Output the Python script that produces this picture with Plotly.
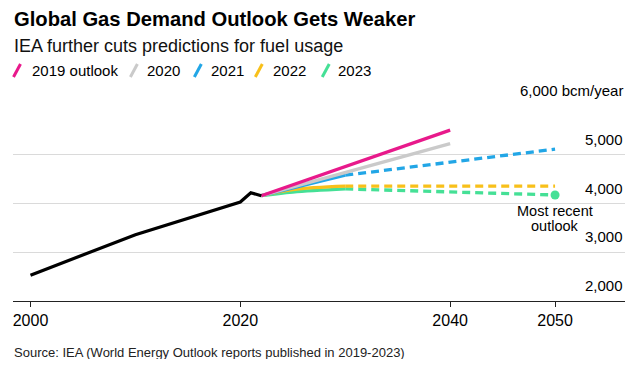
import plotly.graph_objects as go

# ---------------- data ----------------
hist_years = [2000, 2010, 2020, 2021, 2022]
hist_values = [2530, 3360, 4030, 4220, 4160]

o2019_years = [2022, 2040]
o2019_values = [4160, 5505]

o2020_years = [2022, 2040]
o2020_values = [4160, 5230]

o2021_solid_years = [2022, 2030]
o2021_solid_values = [4160, 4580]
o2021_dash_years = [2030, 2050]
o2021_dash_values = [4580, 5115]

o2022_solid_years = [2022, 2025, 2030]
o2022_solid_values = [4160, 4285, 4355]
o2022_dash_years = [2030, 2050]
o2022_dash_values = [4355, 4355]

o2023_solid_years = [2022, 2025, 2030]
o2023_solid_values = [4160, 4235, 4300]
o2023_dash_years = [2030, 2050]
o2023_dash_values = [4300, 4175]

x_tick_vals = [2000, 2020, 2040, 2050]
x_tick_text = ["2000", "2020", "2040", "2050"]
y_tick_vals = [2000, 3000, 4000, 5000, 6000]
y_tick_text = ["2,000", "3,000", "4,000", "5,000", "6,000 bcm/year"]

legend_labels = ["2019 outlook", "2020", "2021", "2022", "2023"]

# ---------------- style ----------------
PINK = "#E8198B"
GRAY = "#CACACA"
BLUE = "#22A6E6"
YELLOW = "#F8C01A"
GREEN = "#45E096"
BLACK = "#000000"
FONT = "Liberation Sans"

OFF = 8  # page body margin
W, H = 642 - 2 * OFF, 367 - 2 * OFF
# plot area in window pixel coords
PLOT_L, PLOT_R, PLOT_T, PLOT_B = 12.5, 625, 106, 300.7


def py(p):
    return (PLOT_B - p) / (PLOT_B - PLOT_T)


def px(p):
    return (p - PLOT_L) / (PLOT_R - PLOT_L)


fig = go.Figure()
LW = 3.3
DASH = "8px,5px"

fig.add_trace(go.Scatter(x=o2023_solid_years, y=o2023_solid_values, mode="lines",
                         line=dict(color=GREEN, width=LW), line_shape="spline"))
fig.add_trace(go.Scatter(x=o2023_dash_years, y=o2023_dash_values, mode="lines",
                         line=dict(color=GREEN, width=LW, dash=DASH)))
fig.add_trace(go.Scatter(x=o2023_dash_years[-1:], y=o2023_dash_values[-1:], mode="markers",
                         marker=dict(color=GREEN, size=9)))
fig.add_trace(go.Scatter(x=o2022_solid_years, y=o2022_solid_values, mode="lines",
                         line=dict(color=YELLOW, width=LW), line_shape="spline"))
fig.add_trace(go.Scatter(x=o2022_dash_years, y=o2022_dash_values, mode="lines",
                         line=dict(color=YELLOW, width=LW, dash=DASH)))
fig.add_trace(go.Scatter(x=o2021_solid_years, y=o2021_solid_values, mode="lines",
                         line=dict(color=BLUE, width=LW)))
fig.add_trace(go.Scatter(x=o2021_dash_years, y=o2021_dash_values, mode="lines",
                         line=dict(color=BLUE, width=LW, dash=DASH)))
fig.add_trace(go.Scatter(x=o2020_years, y=o2020_values, mode="lines",
                         line=dict(color=GRAY, width=LW)))
fig.add_trace(go.Scatter(x=o2019_years, y=o2019_values, mode="lines",
                         line=dict(color=PINK, width=LW)))
fig.add_trace(go.Scatter(x=hist_years, y=hist_values, mode="lines",
                         line=dict(color=BLACK, width=3.2)))

x0 = 2000 - (30 - PLOT_L) / 10.5
x1 = 2050 + (PLOT_R - 555) / 10.5

annotations = []
shapes = []

# title / subtitle / source
annotations.append(dict(text="<b>Global Gas Demand Outlook Gets Weaker</b>", x=px(11), y=py(19),
                        xref="paper", yref="paper", xanchor="left", yanchor="middle", showarrow=False,
                        font=dict(family=FONT, size=20.2, color="#000")))
annotations.append(dict(text="IEA further cuts predictions for fuel usage", x=px(11), y=py(46),
                        xref="paper", yref="paper", xanchor="left", yanchor="middle", showarrow=False,
                        font=dict(family=FONT, size=18, color="#111")))
annotations.append(dict(text="Source: IEA (World Energy Outlook reports published in 2019-2023)", x=px(11), y=py(352),
                        xref="paper", yref="paper", xanchor="left", yanchor="middle", showarrow=False,
                        font=dict(family=FONT, size=13, color="#222")))

# legend
leg_colors = [PINK, GRAY, BLUE, YELLOW, GREEN]
leg_slash_x = [13, 130, 194, 255, 322]
leg_text_x = [30, 145, 209, 271, 336]
for lab, c, sx, tx in zip(legend_labels, leg_colors, leg_slash_x, leg_text_x):
    shapes.append(dict(type="line", xref="paper", yref="paper",
                       x0=px(sx), y0=py(77), x1=px(sx + 7), y1=py(64),
                       line=dict(color=c, width=3)))
    annotations.append(dict(text=lab, x=px(tx), y=py(71), xref="paper", yref="paper",
                            xanchor="left", yanchor="middle", showarrow=False,
                            font=dict(family=FONT, size=15, color="#000")))

# y tick labels
for v, t in zip(y_tick_vals, y_tick_text):
    annotations.append(dict(text=t, x=1, y=v, xref="paper", yref="y", xanchor="right",
                            yanchor="bottom", yshift=5, showarrow=False,
                            font=dict(family=FONT, size=15, color="#000")))

# callout
for i, line in enumerate(["Most recent", "outlook"]):
    annotations.append(dict(text=line, x=o2023_dash_years[-1], y=o2023_dash_values[-1],
                            xref="x", yref="y", xanchor="center", yanchor="middle",
                            yshift=-(16 + 15 * i), showarrow=False,
                            font=dict(family=FONT, size=14.5, color="#000")))

fig.update_layout(
    width=W, height=H,
    margin=dict(l=PLOT_L - OFF, r=(642 - OFF) - PLOT_R, t=PLOT_T - OFF, b=(367 - OFF) - PLOT_B),
    paper_bgcolor="white", plot_bgcolor="white",
    showlegend=False,
    annotations=annotations, shapes=shapes,
    xaxis=dict(range=[x0, x1], tickvals=x_tick_vals, ticktext=x_tick_text,
               showgrid=False, zeroline=False, showline=True, linecolor="#222", linewidth=1.3,
               ticks="outside", ticklen=5, tickcolor="#222", tickwidth=1.3,
               tickfont=dict(family=FONT, size=16, color="#000")),
    yaxis=dict(range=[2000, 6000], tickvals=y_tick_vals, showticklabels=False,
               showgrid=True, gridcolor="#DADADA", gridwidth=1, zeroline=False, showline=False),
)

fig.write_html("out.html")
